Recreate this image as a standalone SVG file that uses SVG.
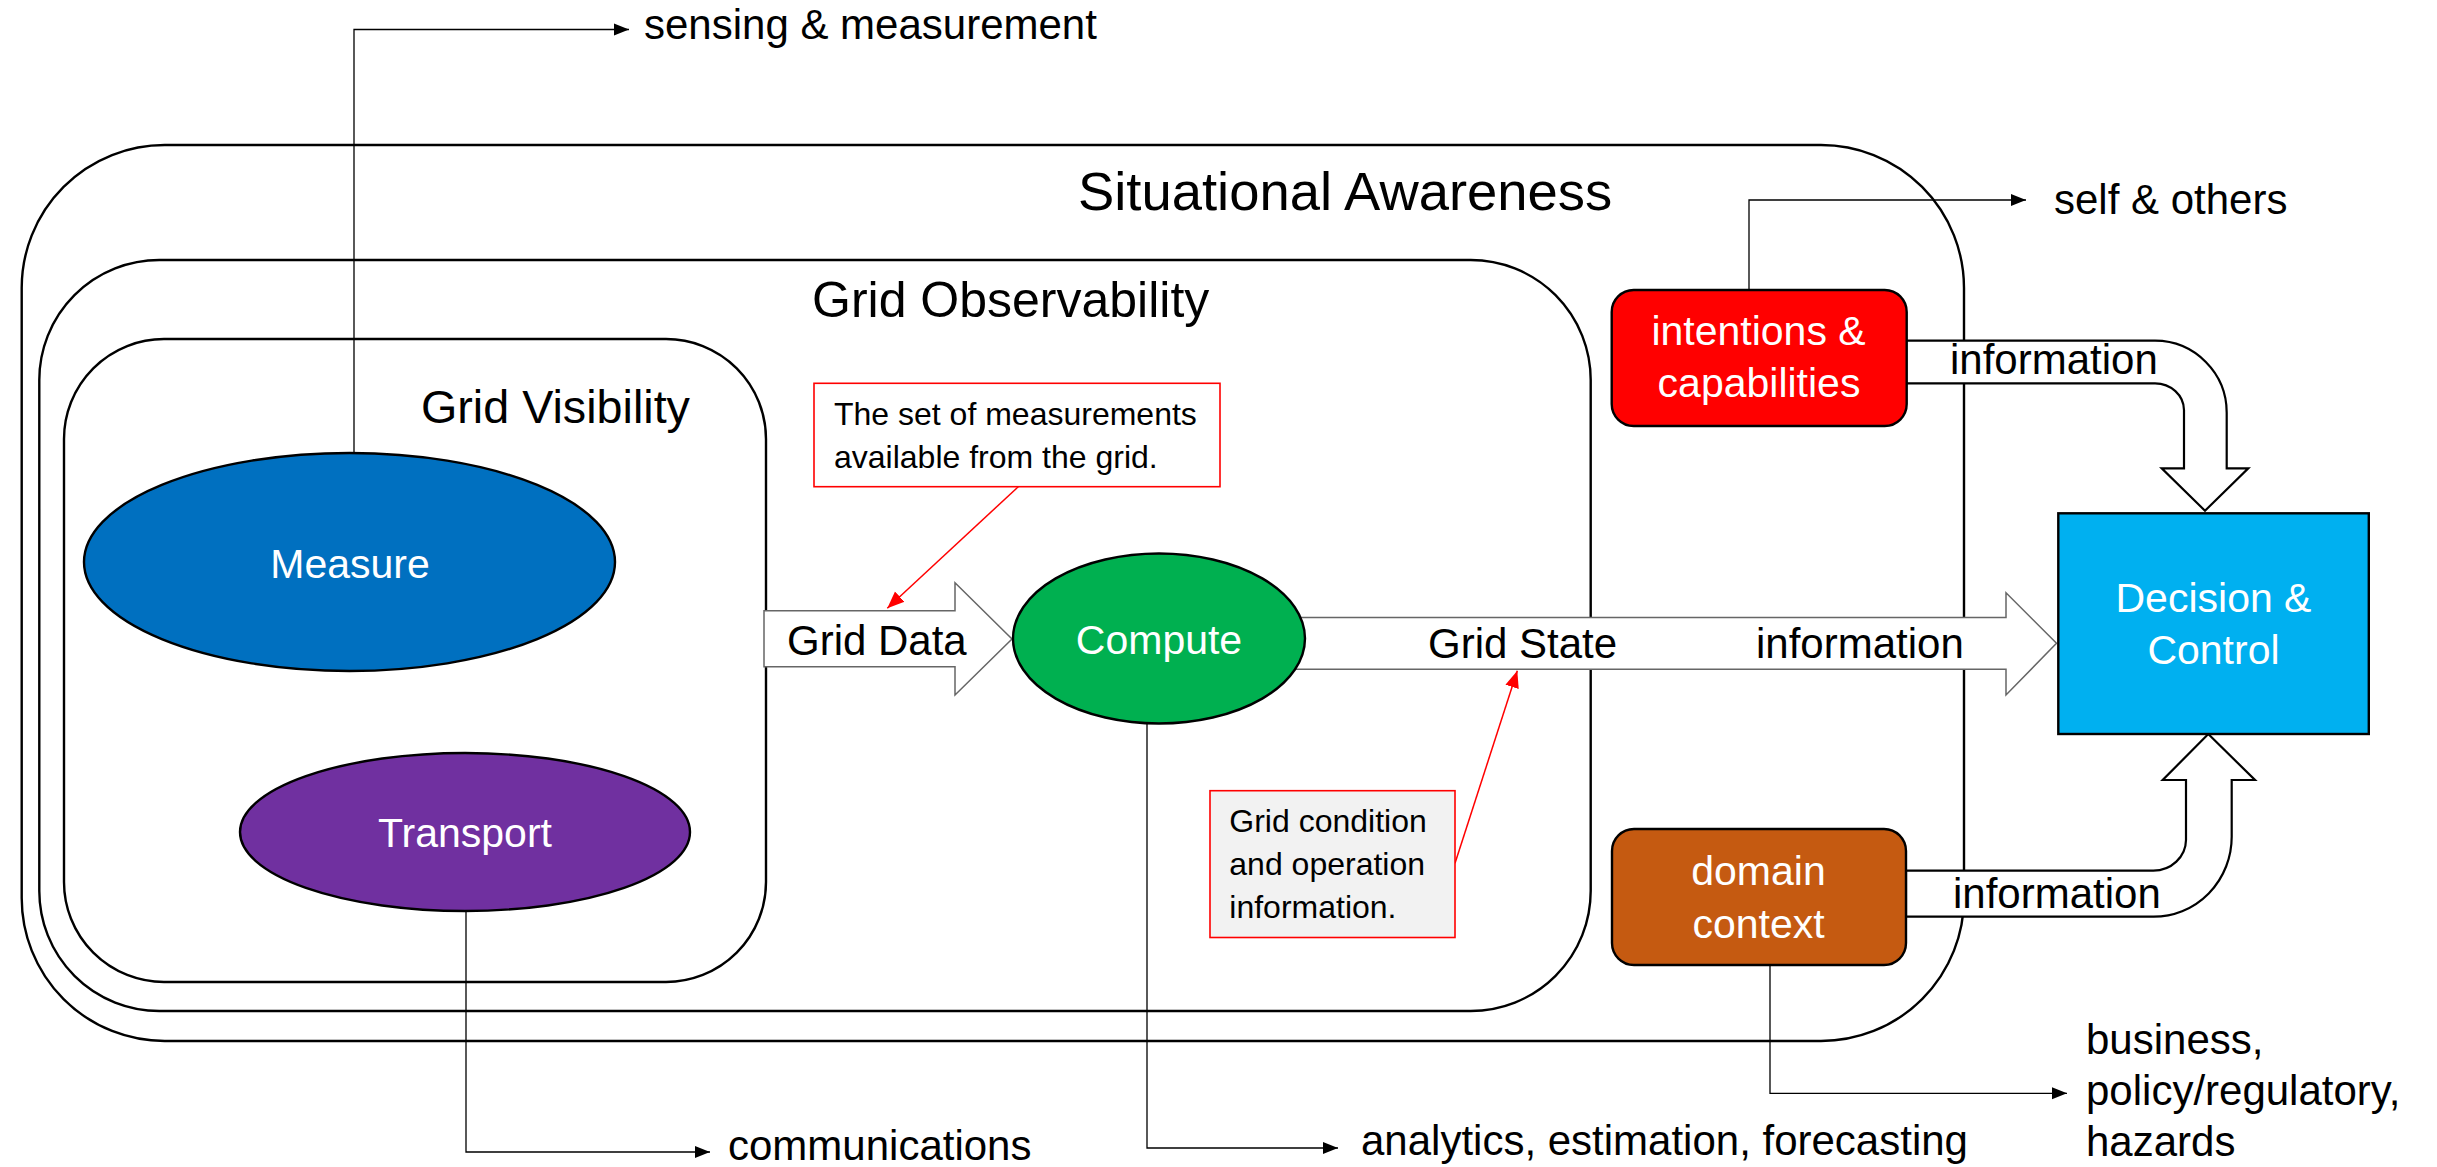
<svg xmlns="http://www.w3.org/2000/svg" width="2437" height="1167" viewBox="0 0 2437 1167">
<defs>
<style>
text{font-family:"Liberation Sans",Arial,sans-serif;}
.frame{fill:none;stroke:#000;stroke-width:2.4;}
.lbl{fill:#000;font-size:42px;}
.title{fill:#000;}
.wht{fill:#fff;font-size:41px;text-anchor:middle;}
.conn{fill:none;stroke:#000;stroke-width:1.3;}
.fat{fill:#fff;stroke:#666;stroke-width:1.5;}
.band{fill:#fff;stroke:#000;stroke-width:2.2;stroke-linejoin:miter;}
.red{fill:none;stroke:#f00;stroke-width:1.5;}
.note{font-size:32px;fill:#000;}
.node{stroke:#000;stroke-width:2.4;}
</style>
<marker id="ah" markerUnits="userSpaceOnUse" markerWidth="16" markerHeight="16" viewBox="0 0 16 16" refX="15" refY="8" orient="auto">
<path d="M0,2 L15,8 L0,14 Z" fill="#000"/>
</marker>
<marker id="rh" markerUnits="userSpaceOnUse" markerWidth="18" markerHeight="18" viewBox="0 0 18 18" refX="17" refY="9" orient="auto">
<path d="M0,2 L17,9 L0,16 Z" fill="#f00"/>
</marker>
</defs>
<rect width="2437" height="1167" fill="#fff"/>

<g id="situational-awareness">
<rect class="frame" x="21.7" y="145" width="1942.3" height="896" rx="143" ry="143"/>
<text class="title" x="1078" y="210" font-size="54.4">Situational Awareness</text>
</g>
<g id="grid-observability">
<rect class="frame" x="39.3" y="260" width="1551.4" height="751" rx="120" ry="120"/>
<text class="title" x="812" y="317" font-size="50">Grid Observability</text>
</g>
<g id="grid-visibility">
<rect class="frame" x="64" y="339" width="702" height="643" rx="100" ry="100"/>
<text class="title" x="421" y="423" font-size="46.7">Grid Visibility</text>
</g>

<g id="connectors">
<path class="conn" d="M354,453 V29.5 H629" marker-end="url(#ah)"/>
<path class="conn" d="M1749,290 V200 H2026" marker-end="url(#ah)"/>
<path class="conn" d="M466,911 V1152 H710" marker-end="url(#ah)"/>
<path class="conn" d="M1147,724 V1148 H1338" marker-end="url(#ah)"/>
<path class="conn" d="M1770,966 V1093.3 H2067" marker-end="url(#ah)"/>
<path class="fat" d="M764,610.7 H955 V582.7 L1012,639 L955,695 V666.7 H764 Z"/>
<path class="fat" d="M1290,617.6 H2006 V592.7 L2056.5,643.3 L2006,695 V669.2 H1290 Z"/>
<path class="band" d="M1906,340.7 H2155 A72,72 0 0 1 2226.7,413 V468.3 H2248.3 L2205,510.7 L2161.7,468.3 H2184 V410 A29,27 0 0 0 2155,383.3 H1906 Z"/>
<path class="band" d="M1906,870.7 H2153.3 A33,31 0 0 0 2186,840 V780 H2162.7 L2208.3,734 L2255,780 H2231.7 V836.7 A78,80 0 0 1 2153.3,916.7 H1906 Z"/>
<path class="red" d="M1018.3,486.7 L887.3,608.3" marker-end="url(#rh)"/>
<path class="red" d="M1455,863.3 L1517.3,670.7" marker-end="url(#rh)"/>
<text class="lbl" x="644" y="39.4" font-size="41.3">sensing &amp; measurement</text>
<text class="lbl" x="2054" y="214.3" font-size="41.7">self &amp; others</text>
<text class="lbl" x="728" y="1160" font-size="42">communications</text>
<text class="lbl" x="1361" y="1154.5" font-size="41.6">analytics, estimation, forecasting</text>
<text class="lbl" x="2086" y="1054" font-size="42.5">business,</text>
<text class="lbl" x="2086" y="1105" font-size="42.5">policy/regulatory,</text>
<text class="lbl" x="2086" y="1156" font-size="42.5">hazards</text>
<text class="lbl" x="787" y="655" font-size="40.4">Grid Data</text>
<text class="lbl" x="1428" y="657.7" font-size="40">Grid State</text>
<text class="lbl" x="1756" y="657.7" font-size="43.2">information</text>
<text class="lbl" x="1950" y="374" font-size="43.2">information</text>
<text class="lbl" x="1953" y="908" font-size="43.2">information</text>
</g>

<g id="measure">
<ellipse class="node" cx="349.5" cy="562" rx="265.5" ry="109" fill="#0070C0"/>
<text class="wht" x="350" y="578">Measure</text>
</g>
<g id="transport">
<ellipse class="node" cx="465" cy="832" rx="225" ry="79" fill="#7030A0"/>
<text class="wht" x="465" y="847">Transport</text>
</g>
<g id="compute">
<ellipse class="node" cx="1159" cy="638.5" rx="146" ry="85" fill="#00B050"/>
<text class="wht" x="1159" y="654" font-size="41.4">Compute</text>
</g>
<g id="intentions-capabilities">
<rect class="node" x="1611.7" y="290" width="295" height="136" rx="22" ry="22" fill="#FF0000"/>
<text class="wht" x="1758.5" y="345" font-size="42.3">intentions &amp;</text>
<text class="wht" x="1759" y="396.7" font-size="41.6">capabilities</text>
</g>
<g id="domain-context">
<rect class="node" x="1612" y="829" width="294" height="136" rx="22" ry="22" fill="#C55A11"/>
<text class="wht" x="1758.5" y="884.6" font-size="42.2">domain</text>
<text class="wht" x="1758.5" y="937.5" font-size="42.2">context</text>
</g>
<g id="decision-control">
<rect class="node" x="2058.3" y="513.3" width="310.5" height="220.7" fill="#00B0F0"/>
<text class="wht" x="2213.5" y="612" font-size="40.6">Decision &amp;</text>
<text class="wht" x="2213.5" y="664" font-size="41">Control</text>
</g>
<g id="note-measurements">
<rect x="814" y="383.3" width="406" height="103.4" fill="#fff" stroke="#f00" stroke-width="1.6"/>
<text class="note" x="834" y="425">The set of measurements</text>
<text class="note" x="834" y="468">available from the grid.</text>
</g>
<g id="note-grid-condition">
<rect x="1210" y="790.7" width="245" height="146.8" fill="#F2F2F2" stroke="#f00" stroke-width="1.6"/>
<text class="note" x="1229.3" y="831.7" font-size="32.8">Grid condition</text>
<text class="note" x="1229.3" y="875" font-size="32.8">and operation</text>
<text class="note" x="1229.3" y="918" font-size="32.8">information.</text>
</g>
</svg>
